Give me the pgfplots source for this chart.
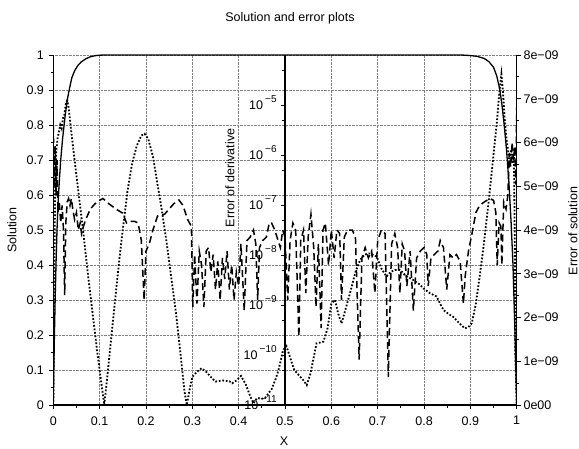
\documentclass[border=0pt]{standalone}
\usepackage{fontspec}
\setmainfont{Liberation Sans}
\usepackage{pgfplots}
\pgfplotsset{compat=1.18}
\usepackage{pgfplotstable}

\pgfplotstableread{
x y
0.000 0.00
0.002 0.17
0.004 0.30
0.006 0.41
0.008 0.50
0.010 0.57
0.013 0.64
0.016 0.70
0.020 0.76
0.025 0.82
0.030 0.87
0.035 0.905
0.040 0.935
0.046 0.955
0.053 0.97
0.060 0.98
0.070 0.989
0.080 0.995
0.090 0.998
0.100 0.9995
0.115 1.0
0.880 1.0
0.900 0.9985
0.915 0.996
0.930 0.99
0.940 0.981
0.950 0.965
0.957 0.94
0.963 0.905
0.968 0.86
0.973 0.80
0.978 0.73
0.983 0.64
0.988 0.52
0.992 0.40
0.996 0.22
1.000 0.00
}\solution

\pgfplotstableread{
x e
0.000 0
0.002 2.8e-9
0.004 4.96e-9
0.006 5.76e-9
0.009 6.08e-9
0.012 6.24e-9
0.015 6.4e-9
0.018 6.32e-9
0.021 6.56e-9
0.024 6.64e-9
0.027 6.88e-9
0.030 6.96e-9
0.033 6.8e-9
0.038 6.32e-9
0.045 5.68e-9
0.055 4.8e-9
0.065 3.92e-9
0.075 2.96e-9
0.085 2.08e-9
0.095 1.2e-9
0.104 0.48e-9
0.110 0
0.118 0.8e-9
0.128 1.84e-9
0.138 2.88e-9
0.148 3.84e-9
0.160 4.88e-9
0.170 5.52e-9
0.180 5.92e-9
0.190 6.16e-9
0.197 6.2e-9
0.205 6.08e-9
0.215 5.68e-9
0.225 5.04e-9
0.235 4.4e-9
0.245 3.68e-9
0.255 2.88e-9
0.265 2.08e-9
0.275 1.12e-9
0.283 0.32e-9
0.288 0
0.295 0.4e-9
0.300 0.64e-9
0.310 0.76e-9
0.320 0.84e-9
0.330 0.76e-9
0.340 0.64e-9
0.350 0.536e-9
0.365 0.56e-9
0.380 0.544e-9
0.386 0.496e-9
0.395 0.56e-9
0.405 0.664e-9
0.415 0.48e-9
0.425 0.2e-9
0.432 0.04e-9
0.440 0.16e-9
0.450 0.144e-9
0.457 0.16e-9
0.465 0.28e-9
0.471 0.36e-9
0.480 0.6e-9
0.486 0.8e-9
0.496 1.256e-9
0.503 1.344e-9
0.510 1.12e-9
0.520 0.8e-9
0.530 0.68e-9
0.540 0.56e-9
0.547 0.456e-9
0.555 0.72e-9
0.568 1.408e-9
0.583 1.448e-9
0.592 1.76e-9
0.600 2.32e-9
0.608 2.4e-9
0.615 2.08e-9
0.622 1.864e-9
0.632 2.24e-9
0.644 2.704e-9
0.652 3.04e-9
0.662 3.312e-9
0.672 3.44e-9
0.683 3.464e-9
0.698 3.392e-9
0.708 3.12e-9
0.719 2.936e-9
0.728 3.04e-9
0.737 3.088e-9
0.748 3.088e-9
0.760 2.96e-9
0.777 2.856e-9
0.790 2.76e-9
0.799 2.664e-9
0.812 2.56e-9
0.827 2.48e-9
0.842 2.168e-9
0.853 2.08e-9
0.863 2.016e-9
0.875 1.88e-9
0.888 1.752e-9
0.895 1.776e-9
0.903 1.864e-9
0.912 2.32e-9
0.921 3.008e-9
0.930 3.76e-9
0.939 4.608e-9
0.948 5.52e-9
0.957 6.44e-9
0.963 7.2e-9
0.967 7.56e-9
0.970 7.2e-9
0.974 6.56e-9
0.978 6.08e-9
0.982 5.76e-9
0.985 5.52e-9
0.988 5.84e-9
0.991 5.52e-9
0.994 5.76e-9
0.996 3.6e-9
0.997 1.2e-9
1.000 0
}\errsol

\pgfplotstableread{
x e
0.000 3.98e-6
0.002 2.19e-7
0.004 1.51e-6
0.006 1.58e-7
0.008 7.94e-7
0.010 7.08e-8
0.013 1.15e-7
0.016 4.37e-8
0.019 9.77e-8
0.022 3.16e-8
0.0245 1.58e-9
0.027 4.37e-8
0.030 1.15e-7
0.033 1.35e-7
0.036 9.77e-8
0.039 1.35e-7
0.042 8.32e-8
0.046 5.13e-8
0.050 7.08e-8
0.054 3.16e-8
0.058 4.37e-8
0.061 2.69e-8
0.065 3.72e-8
0.070 5.13e-8
0.080 8.32e-8
0.090 1.06e-7
0.100 1.24e-7
0.107 1.35e-7
0.120 1.06e-7
0.135 8.32e-8
0.150 6.86e-8
0.158 4.37e-8
0.165 4.73e-8
0.175 4.73e-8
0.183 4.37e-8
0.190 1.95e-8
0.196 1.26e-9
0.200 1.20e-8
0.207 1.66e-8
0.215 3.16e-8
0.225 6.03e-8
0.240 6.53e-8
0.250 8.32e-8
0.260 1.06e-7
0.271 1.26e-7
0.280 9.77e-8
0.290 5.13e-8
0.298 3.72e-8
0.301 9.12e-10
0.305 1.02e-8
0.310 1.07e-9
0.315 1.20e-8
0.320 6.31e-9
0.325 9.12e-10
0.330 1.20e-8
0.335 1.41e-8
0.340 4.57e-9
0.345 1.02e-8
0.350 2.04e-9
0.355 7.41e-9
0.360 1.26e-9
0.365 8.71e-9
0.370 3.31e-9
0.375 1.20e-8
0.380 2.04e-9
0.385 6.31e-9
0.390 1.26e-9
0.395 4.57e-9
0.400 2.40e-9
0.405 1.66e-8
0.412 7.76e-10
0.418 1.95e-8
0.425 2.29e-8
0.432 3.16e-8
0.437 1.66e-8
0.441 1.26e-9
0.445 1.41e-8
0.452 1.95e-8
0.460 2.29e-8
0.466 4.37e-8
0.471 4.37e-8
0.478 3.16e-8
0.485 1.95e-8
0.490 1.41e-8
0.495 3.16e-8
0.500 2.29e-8
0.506 1.26e-9
0.511 1.95e-8
0.517 4.37e-8
0.523 3.16e-8
0.530 2.32e-10
0.534 1.95e-8
0.540 3.16e-8
0.545 1.74e-9
0.550 2.29e-8
0.556 6.53e-8
0.562 1.41e-8
0.567 9.12e-10
0.572 1.66e-8
0.578 3.47e-10
0.582 3.16e-8
0.587 4.37e-8
0.594 6.31e-9
0.600 3.16e-8
0.606 8.71e-9
0.612 3.16e-8
0.618 2.69e-8
0.622 1.26e-9
0.628 2.29e-8
0.635 3.16e-8
0.645 3.16e-8
0.652 2.29e-8
0.660 8.13e-11
0.666 8.71e-9
0.673 1.41e-8
0.680 8.71e-9
0.687 1.20e-8
0.694 1.74e-9
0.700 1.95e-8
0.708 3.16e-8
0.716 2.69e-8
0.723 3.63e-11
0.730 1.66e-8
0.737 2.69e-8
0.743 1.41e-8
0.748 1.74e-9
0.753 1.66e-8
0.758 1.20e-8
0.763 2.40e-9
0.770 1.20e-8
0.777 7.76e-10
0.784 8.71e-9
0.792 1.20e-8
0.800 1.41e-8
0.806 1.02e-8
0.809 2.40e-9
0.815 8.71e-9
0.822 1.02e-8
0.830 1.20e-8
0.835 1.95e-8
0.842 1.41e-8
0.849 2.04e-9
0.856 1.02e-8
0.863 8.71e-9
0.870 1.02e-8
0.878 7.41e-9
0.885 1.07e-9
0.889 3.89e-9
0.896 1.20e-8
0.905 3.16e-8
0.912 7.08e-8
0.920 9.77e-8
0.930 1.15e-7
0.942 1.35e-7
0.950 1.24e-7
0.955 7.08e-8
0.958 6.31e-9
0.962 4.37e-8
0.966 3.72e-8
0.968 6.31e-9
0.972 1.15e-7
0.977 8.32e-8
0.981 1.58e-7
0.984 1.10e-6
0.987 5.75e-7
0.990 1.78e-6
0.993 7.94e-7
0.996 1.51e-6
0.998 2.57e-7
1.000 8.91e-6
}\errder

\newcommand\pw[1]{10\,\raisebox{0.55em}{\fontsize{10pt}{11pt}\selectfont −#1}}

\begin{document}
\fontsize{12.5pt}{14pt}\selectfont
\begin{tikzpicture}
\path[use as bounding box] (-53.3pt,-43pt) rectangle (525.7pt,405pt);
\pgfplotsset{
  base/.style={
    scale only axis, width=463.4pt, height=350pt,
    at={(0pt,0pt)}, anchor=south west,
    /pgf/number format/assume math mode=true,
    major tick length=4pt, minor tick length=2.5pt,
    tick style={black, line width=0.8pt},
    axis line style={line width=1.2pt},
    tick align=outside,
    scaled y ticks=false,
    tick label style={font=\fontsize{12.5pt}{14pt}\selectfont},
  }
}
% left axis: solution
\begin{axis}[base,
  xmin=0, xmax=1, ymin=0, ymax=1,
  axis x line*=bottom, axis y line*=left,
  xtick={0,0.1,0.2,0.3,0.4,0.5,0.6,0.7,0.8,0.9,1},
  ytick={0,0.1,0.2,0.3,0.4,0.5,0.6,0.7,0.8,0.9,1},
  minor x tick num=1, minor y tick num=1,
  xmajorgrids, ymajorgrids,
  grid style={gray, densely dotted, line width=0.5pt},
  xticklabel style={yshift=-3pt},
  yticklabel style={xshift=-1pt},
]
\addplot[black, line width=1.3pt] table[x=x, y=y] {\solution};
\end{axis}
% right axis: error of solution
\begin{axis}[base,
  xmin=0, xmax=1, ymin=0, ymax=8e-9,
  axis x line=none, axis y line*=right,
  ytick={0,1e-9,2e-9,3e-9,4e-9,5e-9,6e-9,7e-9,8e-9},
  yticklabels={0e00,1e−09,2e−09,3e−09,4e−09,5e−09,6e−09,7e−09,8e−09},
  minor y tick num=1,
  yticklabel style={xshift=-1.5pt},
]
\addplot[black, line width=1.8pt, dash pattern=on 1.7pt off 1.8pt] table[x=x, y=e] {\errsol};
\end{axis}
% middle log axis: error of derivative
\begin{axis}[base,
  xmin=-0.5, xmax=0.5, ymode=log, ymin=1e-11, ymax=1e-4,
  axis x line=none, axis y line*=center,
  ytick={1e-11,1e-10,1e-9,1e-8,1e-7,1e-6,1e-5},
  yticklabels={\pw{11},\pw{10},\pw{9},\pw{8},\pw{7},\pw{6},\pw{5}},
  minor ytick={5e-11,5e-10,5e-9,5e-8,5e-7,5e-6,5e-5},
  yticklabel style={anchor=base east, yshift=-4.5pt},
]
\addplot[black, line width=1.5pt, dash pattern=on 7pt off 4pt] table[x expr=\thisrow{x}-0.5, y=e] {\errder};
\end{axis}
\node[font=\fontsize{12.5pt}{14pt}\selectfont] at (236.7pt,387pt) {Solution and error plots};
\node at (230.7pt,-36pt) {X};
\node[rotate=90] at (-41.3pt,175pt) {Solution};
\node[rotate=90] at (519.7pt,174pt) {Error of solution};
\node[rotate=90] at (176.7pt,227pt) {Error of derivative};
\end{tikzpicture}
\end{document}
